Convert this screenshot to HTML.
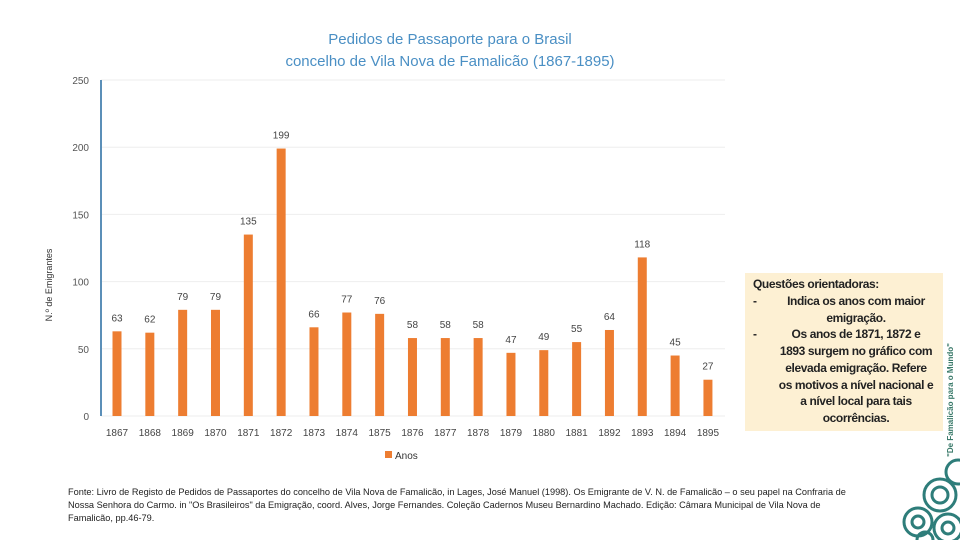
<!DOCTYPE html>
<html><head><meta charset="utf-8"><style>
body{margin:0;width:960px;height:540px;background:#fff;overflow:hidden;font-family:"Liberation Sans",sans-serif;position:relative}
#box{position:absolute;left:745px;top:273px;width:198px;height:158px;background:#fdf0d3;font-size:12px;font-weight:bold;color:#222;line-height:16.7px}
#box .l{white-space:nowrap;letter-spacing:-0.4px}
#src{position:absolute;left:68px;top:486px;width:790px;font-size:9.2px;color:#222;line-height:13px}
</style></head><body>
<svg id="chart" width="960" height="540" style="position:absolute;left:0;top:0">
<text x="450" y="44" text-anchor="middle" font-size="15" fill="#4a8fc4">Pedidos de Passaporte para o Brasil</text>
<text x="450" y="66" text-anchor="middle" font-size="15" fill="#4a8fc4">concelho de Vila Nova de Famalicão (1867-1895)</text>
<text transform="translate(52,285) rotate(-90)" text-anchor="middle" font-size="9" fill="#333">N.º de Emigrantes</text>
<g id="grid"></g><g id="bars"></g>
<line x1="101" y1="80" x2="101" y2="416" stroke="#5b8fb8" stroke-width="2"/>
<rect x="385" y="451" width="7" height="7" fill="#ed7d31"/>
<text x="395" y="459" font-size="10" fill="#333">Anos</text>
<text transform="translate(953,400) rotate(-90)" text-anchor="middle" font-size="8" font-weight="bold" fill="#3a7a6a">"De Famalicão para o Mundo"</text>
<g fill="none" stroke="#2e7d7a" stroke-width="3">
<circle cx="940" cy="495" r="16"/><circle cx="940" cy="495" r="8"/><circle cx="918" cy="522" r="14"/><circle cx="918" cy="522" r="6"/><circle cx="948" cy="528" r="14"/><circle cx="948" cy="528" r="6"/><circle cx="958" cy="472" r="12"/><circle cx="925" cy="540" r="8"/>
</g>
</svg>
<div id="box">
<div style="position:absolute;left:8px;top:3px" class="l">Questões orientadoras:</div>
<div style="position:absolute;left:8px;top:20px">-</div>
<div style="position:absolute;left:8px;top:53px">-</div>
<div style="position:absolute;left:26px;top:20px;width:170px;text-align:center">
<div class="l">Indica os anos com maior</div><div class="l">emigração.</div><div class="l">Os anos de 1871, 1872 e</div><div class="l">1893 surgem no gráfico com</div><div class="l">elevada emigração. Refere</div><div class="l">os motivos a nível nacional e</div><div class="l">a nível local para tais</div><div class="l">ocorrências.</div>
</div>
</div>
<div id="src">Fonte: Livro de Registo de Pedidos de Passaportes do concelho de Vila Nova de Famalicão, in Lages, José Manuel (1998). Os Emigrante de V. N. de Famalicão – o seu papel na Confraria de Nossa Senhora do Carmo. in "Os Brasileiros" da Emigração, coord. Alves, Jorge Fernandes. Coleção Cadernos Museu Bernardino Machado. Edição: Câmara Municipal de Vila Nova de Famalicão, pp.46-79.</div>
<script>
const categories=["1867","1868","1869","1870","1871","1872","1873","1874","1875","1876","1877","1878","1879","1880","1881","1892","1893","1894","1895"];
const values=[63,62,79,79,135,199,66,77,76,58,58,58,47,49,55,64,118,45,27];
const yTicks=[0,50,100,150,200,250];
const NS="http://www.w3.org/2000/svg";
const y=v=>416-v*1.344;
const x=i=>117+i*32.83;
const grid=document.getElementById('grid'),bars=document.getElementById('bars');
yTicks.forEach(t=>{
 const l=document.createElementNS(NS,'line');
 l.setAttribute('x1',101);l.setAttribute('x2',725);l.setAttribute('y1',y(t));l.setAttribute('y2',y(t));
 l.setAttribute('stroke','#eeeeee');
 
 
 grid.appendChild(l);
 const tx=document.createElementNS(NS,'text');
 tx.setAttribute('x',89);tx.setAttribute('y',y(t)+4);tx.setAttribute('text-anchor','end');tx.setAttribute('font-size','10');tx.setAttribute('fill','#555');
 tx.textContent=t;
 
 
 grid.appendChild(tx);
});
values.forEach((v,i)=>{
 const r=document.createElementNS(NS,'rect');
 r.setAttribute('x',x(i)-4.5);r.setAttribute('width',9);r.setAttribute('y',y(v));r.setAttribute('height',416-y(v));r.setAttribute('fill','#ed7d31');
 
 
 bars.appendChild(r);
 const t=document.createElementNS(NS,'text');
 t.setAttribute('x',x(i));t.setAttribute('y',y(v)-10);t.setAttribute('text-anchor','middle');t.setAttribute('font-size','10');t.setAttribute('fill','#444');
 t.textContent=v;
 
 
 bars.appendChild(t);
 const c=document.createElementNS(NS,'text');
 c.setAttribute('x',x(i));c.setAttribute('y',436);c.setAttribute('text-anchor','middle');c.setAttribute('font-size','10');c.setAttribute('fill','#444');
 c.textContent=categories[i];
 
 
 bars.appendChild(c);
});
</script>
</body></html>
